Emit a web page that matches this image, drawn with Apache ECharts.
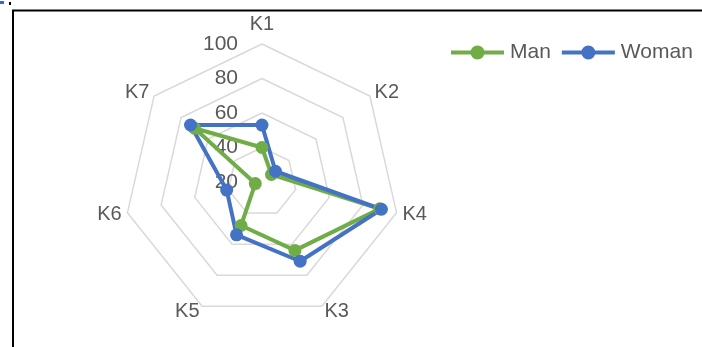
<!DOCTYPE html>
<html lang="en">
<head>
  <meta charset="UTF-8">
  <title>radar</title>
  <script src="https://cdn.jsdelivr.net/npm/echarts@6/dist/echarts.min.js"></script>
  <style>
    html, body {
      margin: 0;
      padding: 0;
      background: #fff;
    }

    #chart-main {
      width: 702px;
      height: 347px;
    }
  </style>
</head>
<body>
<div id="chart-main"></div>

<script type="text/javascript">
  // axes in clockwise order starting at the top
  const categories = ['K1', 'K2', 'K4', 'K3', 'K5', 'K6', 'K7']
  const manValues = [40, 27, 90, 64, 48, 24, 70]
  const womanValues = [53, 30, 91, 71, 54, 41, 73]
  const tickLabels = [20, 40, 60, 80, 100]

  const textColor = '#595959'
  const fontFamily = '"Liberation Sans", Arial, sans-serif'

  // echarts lays indicators out counter-clockwise, so keep the first and flip the rest
  function toCcw (arr) {
    return [arr[0]].concat(arr.slice(1).reverse())
  }

  const axisMin = tickLabels[0]
  const axisMax = tickLabels[tickLabels.length - 1]

  const indicators = toCcw(categories).map(function (name, i) {
    let ind = {name: name, min: axisMin, max: axisMax}
    if (i === 0) {
      // only the top axis carries the value labels
      ind.nameGap = 10
      ind.axisLabel = {
        show: true,
        color: textColor,
        fontSize: 21,
        fontFamily: fontFamily,
        margin: 24,
        padding: [5, 0, 0, 0]
      }
    }
    return ind
  })

  // legend icon: line with a dot in the middle
  const legendIcon = 'path://M0,5 L53,5 L53,9 L0,9 Z M19.5,7 A7,7 0 1,1 33.5,7 A7,7 0 1,1 19.5,7 Z'

  let echartItem = echarts.init(document.getElementById('chart-main'))

  let option = {
    animation: false,
    legend: {
      left: 446,
      top: 37,
      itemWidth: 53,
      itemHeight: 14,
      itemGap: 11,
      icon: legendIcon,
      data: ['Man', 'Woman'],
      textStyle: {
        color: textColor,
        fontSize: 21,
        fontFamily: fontFamily,
        padding: [0, 0, 0, 1]
      }
    },
    radar: {
      center: [262, 182],
      radius: 138,
      startAngle: 90,
      splitNumber: tickLabels.length - 1,
      shape: 'polygon',
      nameGap: 6,
      indicator: indicators,
      axisName: {
        color: textColor,
        fontSize: 20,
        fontFamily: fontFamily
      },
      axisLine: {show: false},
      axisTick: {show: false},
      axisLabel: {show: false},
      splitArea: {show: false},
      splitLine: {
        lineStyle: {
          color: '#d9d9d9',
          width: 1.5
        }
      }
    },
    series: [{
      type: 'radar',
      symbol: 'circle',
      symbolSize: 13,
      data: [
        {
          name: 'Man',
          value: toCcw(manValues),
          itemStyle: {color: '#70ad47'},
          lineStyle: {color: '#70ad47', width: 4}
        },
        {
          name: 'Woman',
          value: toCcw(womanValues),
          itemStyle: {color: '#4472c4'},
          lineStyle: {color: '#4472c4', width: 4}
        }
      ]
    }],
    graphic: [
      {
        type: 'polyline',
        shape: {points: [[13, 347], [13, 10.5], [702, 10.5]]},
        style: {stroke: '#000', lineWidth: 2, fill: null}
      },
      {
        type: 'rect',
        shape: {x: 0, y: 1, width: 4, height: 3},
        style: {fill: '#2f6fc4'}
      },
      {
        type: 'rect',
        shape: {x: 9, y: 2, width: 2, height: 3},
        style: {fill: '#000'}
      }
    ]
  }

  echartItem.setOption(option)
</script>
</body>
</html>
